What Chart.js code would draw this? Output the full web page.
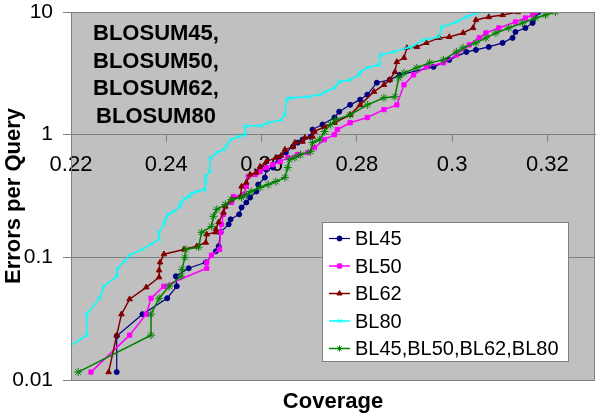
<!DOCTYPE html>
<html>
<head>
<meta charset="utf-8">
<script src="https://cdn.jsdelivr.net/npm/chart.js@4.4.1/dist/chart.umd.min.js"></script>
<style>
  html, body { margin: 0; padding: 0; background: #ffffff; }
  #wrap { width: 600px; height: 417px; position: relative; }
</style>
</head>
<body>
<div id="wrap"><canvas id="c" width="600" height="417"></canvas></div>
<script>
// ---------- data ----------
const seriesNames = ['BL45', 'BL50', 'BL62', 'BL80', 'BL45,BL50,BL62,BL80'];
const annotationLines = ['BLOSUM45,', 'BLOSUM50,', 'BLOSUM62,', 'BLOSUM80'];
const xTitle = 'Coverage';
const yTitle = 'Errors per Query';
const xTickValues = [0.22, 0.24, 0.26, 0.28, 0.30, 0.32];
const xTickLabels = ['0.22', '0.24', '0.26', '0.28', '0.3', '0.32'];
const yTickValues = [0.01, 0.1, 1, 10];
const yTickLabels = ['0.01', '0.1', '1', '10'];

const bl45X = [0.2296,0.2296,0.2350,0.2402,0.2422,0.2420,0.2447,0.2483,0.2504,0.2510,0.2514,0.2531,0.2535,0.2553,0.2558,0.2568,0.2576,0.2589,0.2593,0.2607,0.2610,0.2624,0.2635,0.2651,0.2666,0.2676,0.2686,0.2703,0.2707,0.2728,0.2753,0.2763,0.2786,0.2807,0.2822,0.2842,0.2869,0.2890,0.2961,0.2994,0.3030,0.3050,0.3077,0.3106,0.3127,0.3133,0.3154,0.3169,0.3181];
const bl45Y = [0.0116,0.0228,0.0344,0.0464,0.0581,0.0701,0.0814,0.0910,0.112,0.123,0.160,0.186,0.204,0.224,0.255,0.280,0.307,0.344,0.392,0.447,0.519,0.539,0.650,0.714,0.799,0.861,0.911,0.963,1.10,1.21,1.38,1.54,1.75,1.93,2.12,2.65,2.80,3.07,3.57,4.07,4.73,4.91,5.19,5.60,6.15,6.88,7.41,8.14,10];

const bl50X = [0.2242,0.2323,0.2358,0.2368,0.2395,0.2485,0.2485,0.2495,0.2512,0.2514,0.2516,0.2520,0.2524,0.2537,0.2541,0.2562,0.2568,0.2572,0.2587,0.2597,0.2610,0.2624,0.2639,0.2655,0.2676,0.2697,0.2711,0.2732,0.2753,0.2759,0.2786,0.2822,0.2857,0.2884,0.2899,0.2919,0.2946,0.2982,0.3009,0.3036,0.3057,0.3071,0.3098,0.3133,0.3154,0.3169,0.3175];
const bl50Y = [0.0116,0.0232,0.0344,0.0464,0.0581,0.0814,0.0910,0.104,0.116,0.160,0.186,0.224,0.260,0.280,0.313,0.325,0.378,0.456,0.473,0.500,0.539,0.570,0.603,0.650,0.688,0.714,0.784,0.911,1.00,1.10,1.25,1.38,1.60,1.75,2.55,3.07,3.57,3.85,4.47,5.39,6.15,6.75,7.41,8.29,8.93,9.46,10];

const bl62X = [0.2279,0.2296,0.2306,0.2323,0.2358,0.2385,0.2385,0.2387,0.2395,0.2437,0.2464,0.2483,0.2485,0.2504,0.2504,0.2510,0.2520,0.2524,0.2537,0.2556,0.2558,0.2568,0.2576,0.2589,0.2597,0.2610,0.2630,0.2641,0.2649,0.2666,0.2670,0.2686,0.2691,0.2707,0.2711,0.2732,0.2753,0.2786,0.2807,0.2836,0.2857,0.2869,0.2880,0.2884,0.2899,0.2905,0.2926,0.2946,0.2973,0.2994,0.3023,0.3044,0.3050,0.3077,0.3106,0.3138];
const bl62Y = [0.0116,0.0232,0.0344,0.0456,0.0570,0.0688,0.0784,0.0910,0.106,0.116,0.123,0.132,0.154,0.160,0.169,0.193,0.232,0.260,0.296,0.313,0.378,0.407,0.473,0.491,0.549,0.603,0.650,0.675,0.755,0.799,0.861,0.877,0.945,0.963,1.06,1.16,1.25,1.45,1.75,2.24,2.55,2.80,3.25,3.92,4.23,5.10,5.19,5.60,6.15,6.26,6.75,7.41,8.61,9.10,9.46,10];

const bl80X = [0.2115,0.2233,0.2233,0.2260,0.2269,0.2296,0.2298,0.2312,0.2323,0.2350,0.2368,0.2385,0.2385,0.2395,0.2398,0.2404,0.2416,0.2429,0.2431,0.2439,0.2449,0.2452,0.2464,0.2481,0.2483,0.2483,0.2491,0.2493,0.2506,0.2520,0.2526,0.2535,0.2551,0.2566,0.2566,0.2599,0.2614,0.2641,0.2649,0.2653,0.2662,0.2697,0.2724,0.2734,0.2753,0.2763,0.2786,0.2805,0.2807,0.2822,0.2847,0.2849,0.2878,0.2905,0.2915,0.2940,0.2973,0.2978,0.3009,0.3030,0.3050,0.3077];
const bl80Y = [0.0116,0.0232,0.0344,0.0464,0.0581,0.0701,0.0814,0.0930,0.104,0.116,0.128,0.140,0.160,0.186,0.204,0.224,0.237,0.260,0.280,0.302,0.313,0.331,0.344,0.357,0.415,0.456,0.500,0.650,0.714,0.755,0.799,0.911,0.963,1.00,1.18,1.18,1.25,1.32,1.45,1.96,2.00,2.04,2.12,2.24,2.41,2.70,2.80,3.07,3.25,3.51,3.71,4.47,4.73,5.10,5.19,5.92,6.26,7.55,8.29,9.10,9.81,10];

const allX = [0.2215,0.2368,0.2368,0.2385,0.2406,0.2431,0.2433,0.2439,0.2441,0.2468,0.2474,0.2495,0.2499,0.2506,0.2524,0.2537,0.2558,0.2568,0.2578,0.2597,0.2614,0.2630,0.2649,0.2655,0.2659,0.2670,0.2682,0.2703,0.2707,0.2722,0.2732,0.2745,0.2755,0.2786,0.2822,0.2857,0.2880,0.2888,0.2899,0.2926,0.2953,0.2982,0.3009,0.3023,0.3050,0.3071,0.3092,0.3119,0.3148,0.3175,0.3196,0.3217];
const allY = [0.0116,0.0232,0.0344,0.0464,0.0581,0.0701,0.0798,0.100,0.116,0.121,0.160,0.179,0.216,0.246,0.270,0.296,0.307,0.325,0.344,0.371,0.392,0.415,0.447,0.539,0.626,0.650,0.688,0.727,0.861,0.911,1.06,1.21,1.32,1.45,1.75,2.00,2.04,2.91,3.19,3.51,3.85,4.07,4.73,5.10,5.60,6.15,6.75,7.41,8.14,8.93,9.46,10];

// ---------- styling ----------
const FONT = "'Liberation Sans', Arial, Helvetica, sans-serif";
const pts = (xs, ys) => xs.map((x, i) => ({ x: x, y: ys[i] }));

const styles = [
  { color: '#000080', pointStyle: 'circle',   radius: 2.5, width: 1.2, order: 4 },
  { color: '#FF00FF', pointStyle: 'rect',     radius: 3,   width: 1.5, order: 3 },
  { color: '#800000', pointStyle: 'triangle', radius: 3.2, width: 1.5, order: 2 },
  { color: '#00FFFF', pointStyle: 'crossRot', radius: 3,   width: 1.5, order: 1 },
  { color: '#008000', pointStyle: 'star',     radius: 4,   width: 1.5, order: 0 }
];
const seriesData = [pts(bl45X, bl45Y), pts(bl50X, bl50Y), pts(bl62X, bl62Y), pts(bl80X, bl80Y), pts(allX, allY)];

const datasets = seriesNames.map((name, i) => ({
  label: name,
  data: seriesData[i],
  borderColor: styles[i].color,
  backgroundColor: styles[i].color,
  borderWidth: styles[i].width,
  pointStyle: styles[i].pointStyle,
  pointRadius: styles[i].radius,
  pointBorderWidth: 1,
  pointBorderColor: styles[i].color,
  pointBackgroundColor: styles[i].color,
  tension: 0,
  showLine: true,
  order: styles[i].order
}));

const bgPlugin = {
  id: 'plotBg',
  beforeDraw(chart) {
    const { ctx, chartArea: a } = chart;
    ctx.save();
    ctx.fillStyle = '#C0C0C0';
    ctx.fillRect(a.left, a.top, a.right - a.left, a.bottom - a.top);
    ctx.restore();
  },
  afterDraw(chart) {
    const { ctx, chartArea: a } = chart;
    ctx.save();
    ctx.strokeStyle = '#808080';
    ctx.lineWidth = 1;
    ctx.strokeRect(a.left + 0.5, a.top + 0.5, a.right - a.left - 1, a.bottom - a.top);

    ctx.fillStyle = '#000';
    ctx.font = 'bold 22px ' + FONT;
    ctx.textAlign = 'center';
    ctx.textBaseline = 'middle';
    annotationLines.forEach((t, i) => ctx.fillText(t, 156, 34 + i * 27.7));

    ctx.font = 'bold 22px ' + FONT;
    ctx.fillText(xTitle, 333, 402);
    ctx.save();
    ctx.translate(14, 196);
    ctx.rotate(-Math.PI / 2);
    ctx.fillText(yTitle, 0, 0);
    ctx.restore();

    const lx = 322, ly = 222, lw = 246, lh = 139;
    ctx.fillStyle = '#FFFFFF';
    ctx.fillRect(lx, ly, lw, lh);
    ctx.strokeStyle = '#808080';
    ctx.strokeRect(lx + 0.5, ly + 0.5, lw, lh);
    ctx.font = '20px ' + FONT;
    ctx.textAlign = 'left';
    ctx.textBaseline = 'middle';
    seriesNames.forEach((name, i) => {
      const y = 238.5 + i * 27.5;
      const st = styles[i];
      ctx.strokeStyle = st.color;
      ctx.lineWidth = st.width;
      ctx.beginPath();
      ctx.moveTo(329, y);
      ctx.lineTo(350, y);
      ctx.stroke();
      ctx.fillStyle = st.color;
      ctx.lineWidth = 1;
      Chart.helpers.drawPoint(ctx, { pointStyle: st.pointStyle, radius: Math.min(st.radius, 3), rotation: 0, borderWidth: 1 }, 339.5, y);
      ctx.fillStyle = '#000';
      ctx.fillText(name, 355, y + 1);
    });
    ctx.restore();
  }
};

new Chart(document.getElementById('c'), {
  type: 'line',
  data: { datasets: datasets },
  options: {
    responsive: false,
    animation: false,
    devicePixelRatio: 1,
    layout: { padding: { top: 12, right: 1, bottom: 37, left: 0 } },
    plugins: { legend: { display: false }, tooltip: { enabled: false } },
    scales: {
      x: {
        type: 'linear',
        min: 0.22,
        max: 0.33,
        position: { y: 1 },
        afterFit(scale) { scale.height = 0; scale.paddingLeft = 0; scale.paddingRight = 0; scale.paddingTop = 0; scale.paddingBottom = 0; },
        afterBuildTicks(scale) { scale.ticks = xTickValues.map(v => ({ value: v })); },
        ticks: {
          callback: (v, i) => xTickLabels[i],
          font: { family: FONT, size: 22 },
          color: '#000',
          padding: 10,
          maxRotation: 0,
          autoSkip: false
        },
        grid: { drawOnChartArea: false, drawTicks: true, tickLength: 7, color: '#808080' },
        border: { display: true, color: '#808080' }
      },
      y: {
        type: 'logarithmic',
        min: 0.01,
        max: 10,
        position: 'left',
        afterFit(scale) { scale.width = 71; scale.paddingTop = 0; scale.paddingBottom = 0; },
        afterBuildTicks(scale) { scale.ticks = yTickValues.map(v => ({ value: v })); },
        ticks: {
          callback: (v, i) => yTickLabels[i],
          font: { family: FONT, size: 21 },
          color: '#000',
          padding: 10,
          autoSkip: false
        },
        grid: { color: '#808080', tickLength: 8, drawTicks: true },
        border: { display: true, color: '#808080' }
      }
    }
  },
  plugins: [bgPlugin]
});
</script>
</body>
</html>
